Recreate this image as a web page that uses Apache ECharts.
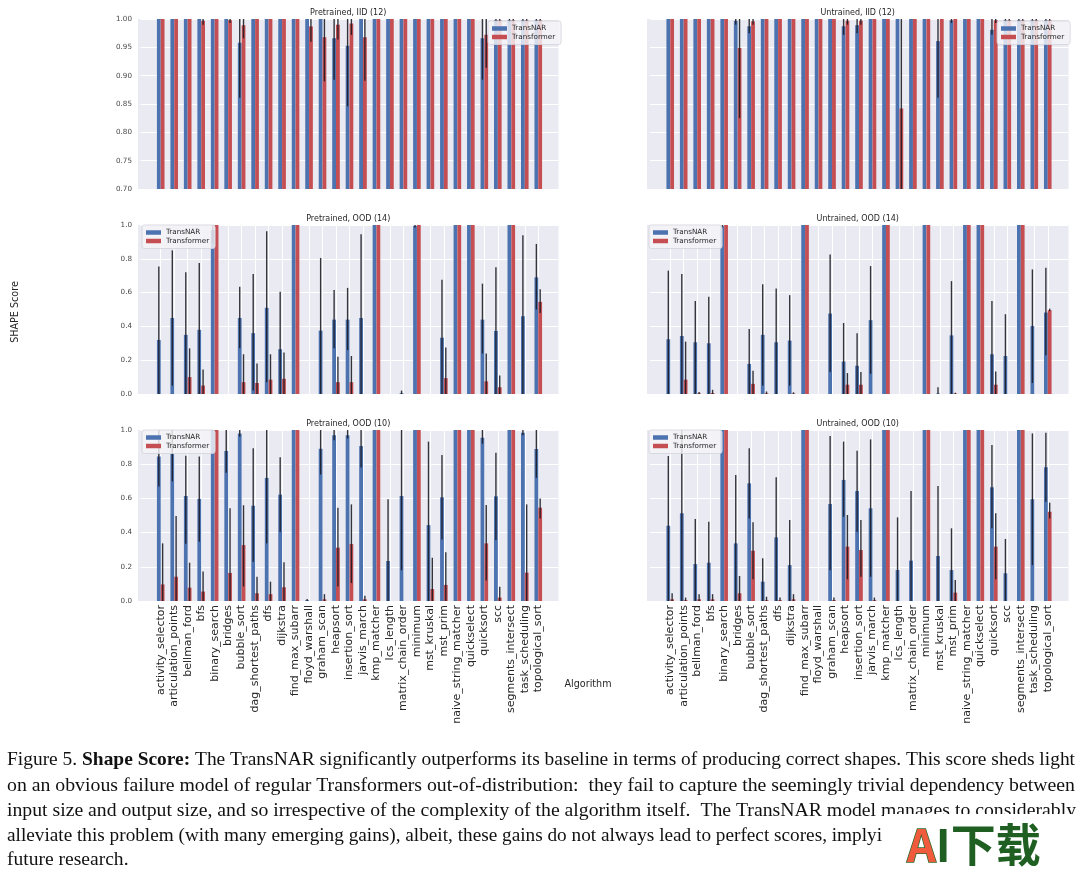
<!DOCTYPE html>
<html><head><meta charset="utf-8">
<script src="https://cdn.jsdelivr.net/npm/echarts@6/dist/echarts.min.js"></script>
<style>html,body{margin:0;padding:0;background:#fff}#c{width:1080px;height:872px}</style>
</head><body><div id="c"></div>
<script>
const categories = ['activity_selector','articulation_points','bellman_ford','bfs','binary_search','bridges','bubble_sort','dag_shortest_paths','dfs','dijkstra','find_max_subarr','floyd_warshall','graham_scan','heapsort','insertion_sort','jarvis_march','kmp_matcher','lcs_length','matrix_chain_order','minimum','mst_kruskal','mst_prim','naive_string_matcher','quickselect','quicksort','scc','segments_intersect','task_scheduling','topological_sort'];
const panelTitles = ['Pretrained, IID (12)','Untrained, IID (12)','Pretrained, OOD (14)','Untrained, OOD (14)','Pretrained, OOD (10)','Untrained, OOD (10)'];
const seriesNames = ['TransNAR','Transformer'];
const ones = [1,1,1,1,1,1,1,1,1,1,1,1,1,1,1,1,1,1,1,1,1,1,1,1,1,1,1,1,1];

// Pretrained, IID (12)
const piidNar   = [1,1,1,1,1,1,0.958,1,1,1,1,1,1,0.966,0.953,1,1,1,1,1,1,1,1,1,0.966,0.998,0.998,0.998,0.998];
const piidNarLo = [1,1,1,1,1,1,0.861,1,1,1,1,1,1,0.893,0.846,1,1,1,1,1,1,1,1,1,0.893,0.994,0.994,0.994,0.994];
const piidNarHi = ones;
const piidTf    = [1,1,1,0.997,1,0.998,0.989,1,1,1,1,0.987,0.968,0.99,0.992,0.968,1,1,1,1,1,1,1,1,0.972,0.998,0.998,0.998,0.998];
const piidTfLo  = [1,1,1,0.99,1,0.993,0.966,1,1,1,1,0.96,0.89,0.964,0.972,0.891,1,1,1,1,1,1,1,1,0.914,0.994,0.994,0.994,0.994];
const piidTfHi  = ones;

// Untrained, IID (12)
const uiidNar   = [1,1,1,1,1,0.997,0.987,1,1,1,1,1,1,0.987,0.989,1,1,1,1,1,0.961,0.998,1,1,0.981,0.998,0.998,0.998,0.998];
const uiidNarLo = [1,1,1,1,1,0.99,0.975,1,1,1,1,1,1,0.972,0.975,1,1,1,1,1,0.861,0.993,1,1,0.972,0.994,0.994,0.994,0.994];
const uiidNarHi = ones;
const uiidTf    = [1,1,1,1,1,0.949,0.996,1,1,1,1,1,1,0.997,0.997,1,1,0.842,1,1,1,1,1,1,0.998,0.998,0.998,0.998,0.998];
const uiidTfLo  = [1,1,1,1,1,0.825,0.99,1,1,1,1,1,1,0.99,0.99,1,1,0.70,1,1,1,1,1,1,0.993,0.994,0.994,0.994,0.994];
const uiidTfHi  = ones;

// Pretrained, OOD (14)
const pood14Nar   = [0.32,0.45,0.35,0.38,0.97,0,0.45,0.36,0.51,0.265,1,0,0.375,0.44,0.44,0.45,1,0,0.005,0.995,0,0.333,1,1,0.44,0.373,1,0.46,0.69];
const pood14NarLo = [0,0.05,0,0,0.89,0,0.27,0.02,0.07,0,1,0,0,0.27,0.26,0,1,0,0,0.985,0,0,1,1,0.24,0,1,0,0.5];
const pood14NarHi = [0.755,0.85,0.72,0.775,1,0,0.635,0.71,0.963,0.605,1,0,0.805,0.615,0.628,0.945,1,0,0.02,1,0,0.676,1,1,0.653,0.75,1,0.94,0.888];
const pood14Tf    = [0,0,0.10,0.05,1,0,0.07,0.065,0.085,0.09,1,0,0,0.07,0.07,0,1,0,0,1,0,0.094,1,1,0.075,0.04,1,0,0.545];
const pood14TfLo  = [0,0,0,0,1,0,0,0,0,0,1,0,0,0,0,0,1,0,0,1,0,0,1,1,0,0,1,0,0.48];
const pood14TfHi  = [0,0,0.27,0.145,1,0,0.235,0.18,0.235,0.245,1,0,0,0.22,0.225,0,1,0,0,1,0,0.275,1,1,0.24,0.11,1,0,0.62];

// Untrained, OOD (14)
const uood14Nar   = [0.324,0.343,0.306,0.30,0.995,0,0.178,0.35,0.306,0.316,1,0,0.476,0.192,0.167,0.437,1,0,0,1,0.003,0.347,1,1,0.235,0.225,1,0.402,0.482];
const uood14NarLo = [0,0,0,0,0.98,0,0,0.05,0,0.05,1,0,0.13,0,0,0.12,1,0,0,1,0,0,1,1,0,0,1,0.065,0.23];
const uood14NarHi = [0.73,0.71,0.55,0.575,1,0,0.385,0.65,0.624,0.585,1,0,0.825,0.42,0.36,0.757,1,0,0,1,0.04,0.668,1,1,0.55,0.472,1,0.737,0.747];
const uood14Tf    = [0,0.085,0.004,0.006,1,0,0.06,0.004,0,0.003,1,0,0,0.055,0.055,0,1,0,0,1,0,0.003,1,1,0.055,0,1,0,0.496];
const uood14TfLo  = [0,0,0,0,1,0,0,0,0,0,1,0,0,0,0,0,1,0,0,1,0,0,1,1,0,0,1,0,0.49];
const uood14TfHi  = [0,0.31,0.012,0.025,1,0,0.137,0.015,0,0.01,1,0,0,0.124,0.13,0,1,0,0,1,0,0.008,1,1,0.133,0,1,0,0.505];

// Pretrained, OOD (10)
const pood10Nar   = [0.845,0.86,0.614,0.597,1,0.877,0.98,0.557,0.72,0.622,1,0.005,0.89,0.97,0.97,0.906,1,0.234,0.614,1,0.444,0.606,1,1,0.955,0.612,1,0.984,0.889];
const pood10NarLo = [0.67,0.70,0.335,0.347,1,0.75,0.96,0.23,0.337,0.405,1,0,0.74,0.94,0.95,0.78,1,0,0.18,1,0,0.36,1,1,0.92,0.357,1,0.97,0.72];
const pood10NarHi = [1,1,0.85,0.845,1,1,1,0.893,1,0.84,1,0.012,1,1,1,1,1,0.595,1,1,0.932,0.854,1,1,1,0.867,1,1,1];
const pood10Tf    = [0.097,0.142,0.078,0.055,1,0.164,0.327,0.045,0.04,0.08,1,0,0.01,0.312,0.333,0.01,1,0,0,1,0.07,0.094,1,1,0.337,0.02,1,0.166,0.546];
const pood10TfLo  = [0,0,0,0,1,0,0.085,0,0,0,1,0,0,0.085,0.105,0,1,0,0,1,0,0,1,1,0.12,0,1,0,0.483];
const pood10TfHi  = [0.337,0.497,0.224,0.172,1,0.542,0.56,0.142,0.113,0.226,1,0,0.04,0.546,0.565,0.03,1,0,0,1,0.253,0.285,1,1,0.561,0.084,1,0.565,0.6];

// Untrained, OOD (10)
const uood10Nar   = [0.44,0.513,0.216,0.224,1,0.337,0.688,0.113,0.372,0.21,1,0,0.567,0.708,0.643,0.542,1,0.181,0.236,1,0.263,0.181,1,1,0.665,0.162,1,0.595,0.782];
const uood10NarLo = [0,0,0,0,1,0,0.483,0,0,0,1,0,0.18,0.493,0.405,0.142,1,0,0,1,0,0,1,1,0.425,0,1,0.21,0.581];
const uood10NarHi = [0.848,1,0.48,0.464,1,0.737,0.893,0.25,0.723,0.474,1,0,0.965,0.932,0.879,0.945,1,0.489,0.643,1,0.672,0.425,1,1,0.912,0.363,1,0.98,0.984];
const uood10Tf    = [0.01,0.005,0.01,0.01,1,0.045,0.294,0.005,0.005,0.01,1,0,0.005,0.318,0.298,0.005,1,0,0,1,0,0.049,1,1,0.318,0,1,0,0.522];
const uood10TfLo  = [0,0,0,0,1,0,0.127,0,0,0,1,0,0,0.127,0.142,0,1,0,0,1,0,0,1,1,0.127,0,1,0,0.483];
const uood10TfHi  = [0.045,0.02,0.04,0.04,1,0.146,0.46,0.025,0.02,0.04,1,0,0.02,0.503,0.474,0.02,1,0,0,1,0,0.123,1,1,0.513,0,1,0,0.575];

const yTicksTop = {min: 0.7, max: 1.0, interval: 0.05, digits: 2};
const yTicksOod = {min: 0, max: 1.0, interval: 0.2, digits: 1};

const captionLines = [
  ['Figure 5. ', 'Shape Score:', ' The TransNAR significantly outperforms its baseline in terms of producing correct shapes. This score sheds light'],
  'on an obvious failure model of regular Transformers out-of-distribution:  they fail to capture the seemingly trivial dependency between',
  'input size and output size, and so irrespective of the complexity of the algorithm itself.  The TransNAR model manages to considerably',
  'alleviate this problem (with many emerging gains), albeit, these gains do not always lead to perfect scores, implyi',
  'future research.'
];

const panels = [
  [piidNar,piidNarLo,piidNarHi,piidTf,piidTfLo,piidTfHi],
  [uiidNar,uiidNarLo,uiidNarHi,uiidTf,uiidTfLo,uiidTfHi],
  [pood14Nar,pood14NarLo,pood14NarHi,pood14Tf,pood14TfLo,pood14TfHi],
  [uood14Nar,uood14NarLo,uood14NarHi,uood14Tf,uood14TfLo,uood14TfHi],
  [pood10Nar,pood10NarLo,pood10NarHi,pood10Tf,pood10TfLo,pood10TfHi],
  [uood10Nar,uood10NarLo,uood10NarHi,uood10Tf,uood10TfLo,uood10TfHi]
];

// ---------- layout ----------
const BLUE = '#4C72B0', RED = '#C44E52', BG = '#EAEAF2';
const FONT = 'DejaVu Sans';
const colLeft = [140.5, 650];
const gridW = 418;
const bgX = [[138, 558.5], [647, 1068.5]];
const rowTop = [19, 225, 430];
const rowH = [170, 169, 171];
const barW = 3.8;

const grids = [], xAxes = [], yAxes = [], series = [], legends = [], graphics = [];
const xData = [''].concat(categories).concat(['']);
const legendPos = [[488, 21], [997, 21], [142, 225], [649, 225], [142, 430], [649, 430]];

function errSeries(idx, lo, hi, offset) {
  return {
    type: 'custom', name: 'err' + idx, xAxisIndex: idx, yAxisIndex: idx, z: 5, clip: true, silent: true,
    encode: {x: 0, y: [1, 2]},
    data: categories.map((c, i) => [c, lo[i], hi[i]]).filter(d => d[2] - d[1] > 1e-6),
    renderItem: function (params, api) {
      const a = api.coord([api.value(0), api.value(1)]);
      const b = api.coord([api.value(0), api.value(2)]);
      return {type: 'line', shape: {x1: a[0] + offset, y1: a[1], x2: a[0] + offset, y2: b[1]},
        style: {stroke: 'rgba(26,26,34,0.88)', lineWidth: 1.4}};
    }
  };
}

for (let p = 0; p < 6; p++) {
  const r = Math.floor(p / 2), c = p % 2;
  const yt = r === 0 ? yTicksTop : yTicksOod;
  grids.push({left: colLeft[c], top: rowTop[r], width: gridW, height: rowH[r], show: false, containLabel: false});
  graphics.push({type: 'rect', z: -10, silent: true,
    shape: {x: bgX[c][0], y: rowTop[r], width: bgX[c][1] - bgX[c][0], height: rowH[r]},
    style: {fill: BG}});
  xAxes.push({
    type: 'category', gridIndex: p, data: xData, boundaryGap: true,
    axisLine: {show: false}, axisTick: {show: false},
    axisLabel: {show: r === 2, rotate: 90, interval: 0, fontSize: 11, color: '#262626', margin: 4, fontFamily: FONT},
    splitLine: {show: true, alignWithLabel: true, interval: function (i, v) { return v !== ''; },
      lineStyle: {color: '#ffffff', width: 1}}
  });
  yAxes.push({
    type: 'value', gridIndex: p, min: yt.min, max: yt.max, interval: yt.interval,
    axisLine: {show: false}, axisTick: {show: false},
    axisLabel: {show: c === 0, fontSize: 7.2, color: '#4a4a4a', margin: 8.5, fontFamily: FONT,
      formatter: (function (d) { return function (v) { return v.toFixed(d); }; })(yt.digits)},
    splitLine: {show: true, lineStyle: {color: '#ffffff', width: 1}}
  });
  const d = panels[p];
  series.push({type: 'bar', name: 'TransNAR', xAxisIndex: p, yAxisIndex: p, barWidth: barW, barGap: '0%',
    silent: true, itemStyle: {color: BLUE}, data: categories.map((cat, i) => [cat, d[0][i]])});
  series.push({type: 'bar', name: 'Transformer', xAxisIndex: p, yAxisIndex: p, barWidth: barW, barGap: '0%',
    silent: true, itemStyle: {color: RED}, data: categories.map((cat, i) => [cat, d[3][i]])});
  series.push(errSeries(p, d[1], d[2], -barW / 2));
  series.push(errSeries(p, d[4], d[5], barW / 2));
  legends.push({
    data: seriesNames, orient: 'vertical', left: legendPos[p][0], top: legendPos[p][1],
    itemWidth: 15, itemHeight: 4.5, itemGap: 1.5, padding: [4, 6, 4, 4], icon: 'rect', selectedMode: false,
    textStyle: {fontSize: 7.2, color: '#262626', fontFamily: FONT},
    backgroundColor: 'rgba(244,244,248,0.82)', borderColor: '#d2d2da', borderWidth: 0.8, borderRadius: 2.5, z: 10
  });
  graphics.push({type: 'text', x: (bgX[c][0] + bgX[c][1]) / 2, y: rowTop[r] - 6.5, silent: true,
    style: {text: panelTitles[p], fontSize: 8, fontFamily: FONT, fill: '#262626',
      textAlign: 'center', textVerticalAlign: 'middle', align: 'center', verticalAlign: 'middle'}});
}

// axis names
graphics.push({type: 'text', x: 15, y: 312, rotation: Math.PI / 2, silent: true,
  style: {text: 'SHAPE Score', fontSize: 9.6, fontFamily: FONT, fill: '#262626',
    textAlign: 'center', textVerticalAlign: 'middle', align: 'center', verticalAlign: 'middle'}});
graphics.push({type: 'text', x: 588, y: 684, silent: true,
  style: {text: 'Algorithm', fontSize: 9.6, fontFamily: FONT, fill: '#262626',
    textAlign: 'center', textVerticalAlign: 'middle', align: 'center', verticalAlign: 'middle'}});

// caption
const CAP_FS = 19.5;
const ctx = document.createElement('canvas').getContext('2d');
function mw(t, bold) { ctx.font = (bold ? 'bold ' : '') + CAP_FS + 'px "Liberation Serif"'; return ctx.measureText(t).width; }
const capY = [760, 785.5, 810.5, 835.5, 860];
const w0 = mw(captionLines[0][0]) + mw(captionLines[0][1], true) + mw(captionLines[0][2]);
const s0 = 1068 / w0, s1 = 1068 / mw(captionLines[1]), s2 = 1069 / mw(captionLines[2]);
const s3 = 875 / mw(captionLines[3]);
const sAvg = (s0 + s1 + s2 + s3) / 4;
const capScales = [s0, s1, s2, s3, sAvg];
const capRich = {n: {fontSize: CAP_FS, fontFamily: 'Liberation Serif', fill: '#111'},
  b: {fontSize: CAP_FS, fontFamily: 'Liberation Serif', fontWeight: 'bold', fill: '#111'}};
for (let i = 0; i < 5; i++) {
  const txt = i === 0 ? '{n|' + captionLines[0][0] + '}{b|' + captionLines[0][1] + '}{n|' + captionLines[0][2] + '}'
                      : '{n|' + captionLines[i] + '}';
  graphics.push({type: 'text', x: 7, y: capY[i], scaleX: capScales[i], silent: true,
    style: {text: txt, rich: capRich, fontSize: CAP_FS, fontFamily: 'Liberation Serif', fill: '#111',
      textAlign: 'left', textVerticalAlign: 'middle', align: 'left', verticalAlign: 'middle'}});
}
// watermark area
graphics.push({type: 'rect', silent: true, z: 20, shape: {x: 884, y: 814, width: 196, height: 58}, style: {fill: '#ffffff'}});
graphics.push({type: 'text', x: 907, y: 845, silent: true, z: 21,
  style: {text: '{a|A}{g|I下载}', textAlign: 'left', textVerticalAlign: 'middle', align: 'left', verticalAlign: 'middle',
    rich: {
      a: {fontSize: 45, fontWeight: 'bold', fontFamily: 'Noto Sans CJK SC', fill: '#EF5B3C', stroke: '#2C6A2C', lineWidth: 1.5},
      g: {fontSize: 45, fontWeight: 'bold', fontFamily: 'Noto Sans CJK SC', fill: '#1F5F22'}
    }}});

const chart = echarts.init(document.getElementById('c'), null, {renderer: 'canvas'});
chart.setOption({
  backgroundColor: '#ffffff',
  animation: false,
  grid: grids, xAxis: xAxes, yAxis: yAxes, series: series, legend: legends,
  graphic: {elements: graphics}
});
</script></body></html>
